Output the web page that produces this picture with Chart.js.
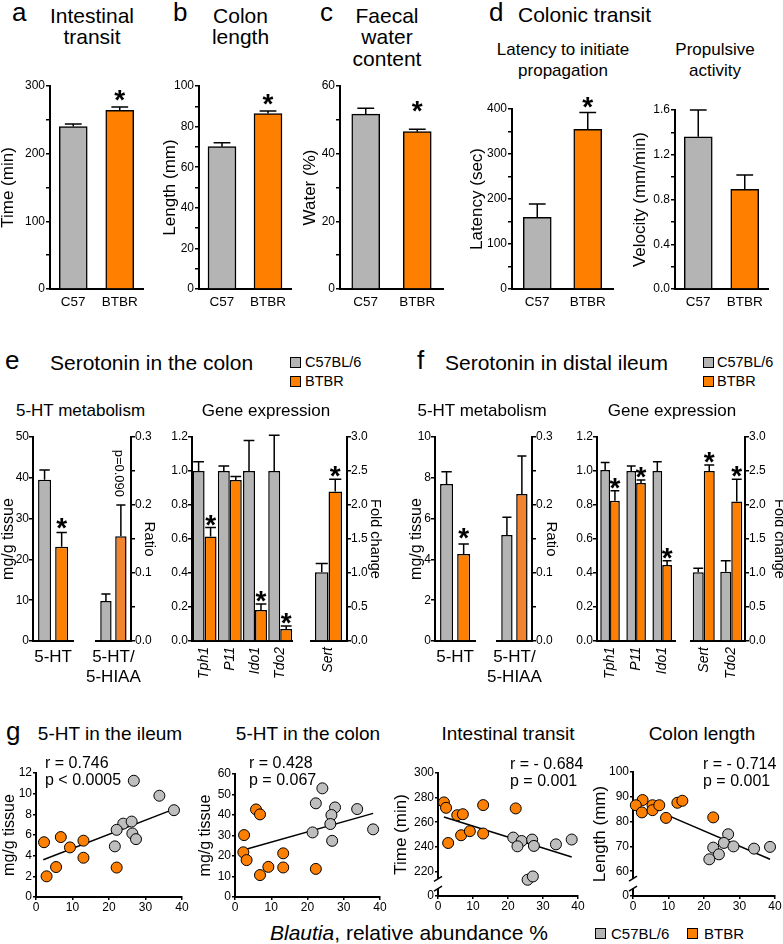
<!DOCTYPE html>
<html lang="en">
<head>
<meta charset="UTF-8">
<title>Gut transit and serotonin, BTBR vs C57BL/6</title>
<script src="https://cdn.jsdelivr.net/npm/chart.js"></script>
<style>
  html, body { margin: 0; padding: 0; background: #fff; }
  #fig { position: relative; width: 783px; height: 944px; overflow: hidden;
         font-family: "Liberation Sans", Arial, Helvetica, sans-serif; color: #000; }
  #fig canvas { position: absolute; }
  .t { position: absolute; white-space: nowrap; line-height: 1; }
  .sq { position: absolute; box-sizing: border-box; width: 11px; height: 11px; border: 1.5px solid #000; }
</style>
</head>
<body>
<div id="fig"></div>
<script>
// ---------- data ----------
const strains = ['C57', 'BTBR'];
const transitMean = [240, 264];
const transitErr = [244, 269];
const transitStar = [false, true];
const colonLenMean = [70.1, 86.4];
const colonLenErr = [72.1, 87.7];
const colonLenStar = [false, true];
const waterMean = [51.7, 46.5];
const waterErr = [53.4, 47.2];
const waterStar = [false, true];
const latencyMean = [159, 355];
const latencyErr = [189, 392];
const latencyStar = [false, true];
const velocityMean = [1.36, 0.89];
const velocityErr = [1.6, 1.02];

const metabCats = ['5-HT'];
const ratioCats = [['5-HT/', '5-HIAA']];

// e: colon
const colonHtC57 = [39.5], colonHtC57Err = [41.9];
const colonHtBTBR = [23.1], colonHtBTBRErr = [26.6];
const colonRatioC57 = [0.059], colonRatioC57Err = [0.069];
const colonRatioBTBR = [0.154], colonRatioBTBRErr = [0.2];
const colonGenes = ['Tph1', 'P11', 'Ido1', 'Tdo2'];
const colonGeneC57 = [1.0, 1.0, 1.0, 1.0];
const colonGeneC57Err = [1.055, 1.03, 1.18, 1.21];
const colonGeneBTBR = [0.614, 0.947, 0.182, 0.07];
const colonGeneBTBRErr = [0.667, 0.967, 0.218, 0.088];
const colonGeneStar = [true, false, true, true];
const colonFoldGenes = ['Sert'];
const colonFoldC57 = [1.01], colonFoldC57Err = [1.14];
const colonFoldBTBR = [2.2], colonFoldBTBRErr = [2.38];

// f: distal ileum
const ileumHtC57 = [7.7], ileumHtC57Err = [8.3];
const ileumHtBTBR = [4.26], ileumHtBTBRErr = [4.75];
const ileumRatioC57 = [0.156], ileumRatioC57Err = [0.182];
const ileumRatioBTBR = [0.216], ileumRatioBTBRErr = [0.272];
const ileumGenes = ['Tph1', 'P11', 'Ido1'];
const ileumGeneC57 = [1.006, 1.0, 1.0];
const ileumGeneC57Err = [1.05, 1.03, 1.055];
const ileumGeneBTBR = [0.825, 0.93, 0.447];
const ileumGeneBTBRErr = [0.884, 0.947, 0.472];
const ileumFoldGenes = ['Sert', 'Tdo2'];
const ileumFoldC57 = [1.01, 1.02], ileumFoldC57Err = [1.07, 1.18];
const ileumFoldBTBR = [2.5, 2.05], ileumFoldBTBRErr = [2.59, 2.38];

// g: correlations with Blautia abundance (%)
const ileumBTBRx = [2.2, 6.8, 9.3, 13, 13, 5.5, 2.9, 22.1];
const ileumBTBRy = [5.3, 5.8, 4.8, 5.45, 3.8, 2.9, 2.0, 2.85];
const ileumC57x = [26.8, 33.8, 37.8, 23.9, 26.2, 22.1, 26.4, 27.4, 21.6];
const ileumC57y = [11.25, 9.8, 8.4, 7.1, 7.3, 6.5, 6.15, 5.6, 4.9];
const ileumFitX = [2, 37.8], ileumFitY = [3.6, 8.5];

const colonBTBRx = [5.8, 6.9, 2.5, 2.3, 3.2, 6.9, 9.2, 13.3, 13.3, 22.3];
const colonBTBRy = [42.7, 40.3, 30.2, 21.8, 18, 10.7, 14.7, 21.3, 14.4, 13.7];
const colonC57x = [24.1, 22.3, 27.6, 26.6, 33.7, 26.3, 21.4, 38.1, 26.8];
const colonC57y = [53, 45.7, 43.7, 40, 42.9, 35.6, 31.5, 33, 27.4];
const colonFitX = [2.8, 38.1], colonFitY = [23.2, 40.8];

const transitBTBRx = [1.7, 2.3, 5.5, 7.1, 12.9, 22.2, 2.9, 6.6, 9.1, 12.9];
const transitBTBRy = [276.1, 271.7, 265.7, 266.5, 273.9, 271.2, 243.1, 249.4, 252.7, 250.8];
const transitC57x = [21.5, 23.9, 26.9, 22.7, 27.4, 33.7, 38.2, 25.6, 27.1];
const transitC57y = [247.5, 244.7, 245.9, 240.4, 240.7, 242, 245.9, 213.2, 215.9];
const transitFitX = [1.7, 38.2], transitFitY = [264.3, 231.7];

const lengthBTBRx = [2.7, 0.8, 2.5, 5.5, 5.5, 7.4, 9.3, 12.5, 13.9, 22.6];
const lengthBTBRy = [88.7, 86.6, 83.7, 86.6, 84.6, 86.6, 81.5, 87.6, 88.4, 81.7];
const lengthC57x = [26.8, 22.6, 25.6, 28.3, 24.2, 21.5, 34.1, 38.6];
const lengthC57y = [74.9, 69.5, 71.4, 70, 66.8, 64.8, 69.1, 69.8];
const lengthFitX = [9.3, 38.6], lengthFitY = [82.8, 64.8];

// ---------- styling ----------
const GRAY = '#b4b4b4', ORANGE = '#ff8000', RATIO_ORANGE = '#f2842f', PT_GRAY = '#bebebe';
const FONT = '"Liberation Sans", Arial, Helvetica, sans-serif';

Chart.defaults.font.family = FONT;
Chart.defaults.color = '#000';
Chart.defaults.animation = false;
Chart.defaults.plugins.legend.display = false;
Chart.defaults.plugins.tooltip.enabled = false;

// error bars, asterisks and the p-value note on top of bars
const errBars = {
  id: 'errBars',
  afterDatasetsDraw(chart, args, o) {
    const ctx = chart.ctx;
    chart.data.datasets.forEach((ds, i) => {
      if (!ds.err) return;
      const meta = chart.getDatasetMeta(i);
      const ys = chart.scales[meta.yAxisID];
      meta.data.forEach((bar, j) => {
        const top = ys.getPixelForValue(ds.err[j]);
        const half = bar.width * (o.cap || 0.3);
        ctx.save();
        ctx.strokeStyle = '#000';
        ctx.lineWidth = 1.5;
        ctx.beginPath();
        ctx.moveTo(bar.x, bar.y);
        ctx.lineTo(bar.x, top);
        ctx.moveTo(bar.x - half, top);
        ctx.lineTo(bar.x + half, top);
        ctx.stroke();
        ctx.fillStyle = '#000';
        if (ds.star && ds.star[j]) {
          ctx.font = 'bold 28px ' + FONT;
          ctx.textAlign = 'center';
          ctx.textBaseline = 'alphabetic';
          ctx.fillText('*', bar.x, top + (o.starOff || 0));
        }
        if (ds.note && ds.note[j]) {
          ctx.translate(bar.x - 2, top - 8);
          ctx.rotate(Math.PI / 2);
          ctx.font = '13px ' + FONT;
          ctx.textAlign = 'right';
          ctx.textBaseline = 'middle';
          ctx.fillText(ds.note[j], 0, 0);
        }
        ctx.restore();
      });
    });
  }
};

// "//" break on a y axis
const axisBreak = {
  id: 'axisBreak',
  afterDraw(chart, args, o) {
    if (!o.at) return;
    const ctx = chart.ctx, ys = chart.scales.y;
    const x = chart.chartArea.left;
    const y1 = ys.getPixelForValue(o.at[0]), y2 = ys.getPixelForValue(o.at[1]);
    ctx.save();
    ctx.fillStyle = '#fff';
    ctx.fillRect(x - 3, y2, 6, y1 - y2);
    ctx.strokeStyle = '#000';
    ctx.lineWidth = 1.5;
    ctx.beginPath();
    [y1, y2].forEach(y => { ctx.moveTo(x - 4, y + 2.5); ctx.lineTo(x + 4, y - 2.5); });
    ctx.stroke();
    ctx.restore();
  }
};
Chart.register(errBars, axisBreak);

const fig = document.getElementById('fig');

// put a chart so that its plot area lands on box l,t,r,b
function place(box, cfg) {
  const pl = box.pl || 0, pr = box.pr || 0, pt = box.pt || 14;
  const yw = box.yw || 0, yrw = box.yrw || 0;
  const W = box.r - box.l + yw + yrw + pl + pr;
  const H = box.b - box.t + pt + box.xh;
  const cv = document.createElement('canvas');
  cv.width = W; cv.height = H;
  cv.style.left = (box.l - yw - pl) + 'px';
  cv.style.top = (box.t - pt) + 'px';
  cv.style.width = W + 'px';
  cv.style.height = H + 'px';
  fig.appendChild(cv);
  const o = cfg.options;
  o.responsive = false;
  o.layout = { padding: { left: pl, right: pr, top: pt, bottom: 0 } };
  Object.entries(o.scales).forEach(([k, s]) => {
    if (k[0] === 'x') s.afterFit = sc => { sc.height = box.xh; };
    else if (s.position === 'right') s.afterFit = sc => { sc.width = yrw; };
    else s.afterFit = sc => { sc.width = yw; };
  });
  return new Chart(cv, cfg);
}

const major = (step, dec) => v => {
  const r = v / step;
  return Math.abs(r - Math.round(r)) < 1e-6 ? v.toFixed(dec) : '';
};

function yLin(o) {
  const s = {
    type: 'linear', position: o.pos || 'left', min: o.min, max: o.max,
    border: { display: true, color: '#000', width: 2 },
    grid: { drawOnChartArea: false, drawTicks: true, tickLength: o.tl || 4, color: '#000', lineWidth: 1.5 },
    ticks: { stepSize: o.step, padding: o.pad || 0, autoSkip: false, font: { size: 12 } },
    title: { display: !!o.title, text: o.title || '', padding: 0, font: { size: o.ts || 17 } }
  };
  if (o.fmt) s.ticks.callback = o.fmt;
  return s;
}

function xCat(o = {}) {
  return {
    type: 'category', offset: true,
    border: { display: true, color: '#000', width: 2 },
    grid: { display: false, drawTicks: false },
    ticks: { padding: o.pad || 5, autoSkip: false, maxRotation: o.rot || 0, minRotation: o.rot || 0,
             font: { size: o.fs || 13.5, style: o.italic ? 'italic' : 'normal', lineHeight: 1.2 } }
  };
}

function xLin() {
  return {
    type: 'linear', min: 0, max: 40,
    border: { display: true, color: '#000', width: 2 },
    grid: { drawOnChartArea: false, drawTicks: true, tickLength: 3, color: '#000', lineWidth: 1.5 },
    ticks: { stepSize: 10, padding: 0, font: { size: 12 } }
  };
}

function barDs(label, data, err, star, color, note) {
  return { label, data, err, star, note, backgroundColor: color, borderColor: '#000', borderWidth: 1.5 };
}

// ---------- a-d: single bar pairs ----------
function strainBars(box, mean, err, star, yopt, starOff) {
  const ds = barDs('mean', mean, err, star, [GRAY, ORANGE]);
  ds.barThickness = 28;
  place(Object.assign({ xh: 30, pr: 4 }, box), {
    type: 'bar',
    data: { labels: strains, datasets: [ds] },
    options: {
      scales: { x: xCat({ fs: 13.5, pad: 5 }), y: yLin(Object.assign({ pad: 1 }, yopt)) },
      plugins: { errBars: { cap: 0.3, starOff } }
    }
  });
}

strainBars({ l: 50, t: 86, r: 143, b: 289, yw: 52 }, transitMean, transitErr, transitStar,
  { min: 0, max: 300, step: 50, fmt: major(100, 0), title: 'Time (min)' }, 2);
strainBars({ l: 199, t: 86, r: 291, b: 289, yw: 39 }, colonLenMean, colonLenErr, colonLenStar,
  { min: 0, max: 100, step: 10, fmt: major(20, 0), title: 'Length (mm)' }, 2);
strainBars({ l: 340, t: 86, r: 443, b: 289, yw: 40 }, waterMean, waterErr, waterStar,
  { min: 0, max: 60, step: 10, fmt: major(20, 0), title: 'Water (%)' }, -9);
strainBars({ l: 512, t: 109, r: 613, b: 289, yw: 45 }, latencyMean, latencyErr, latencyStar,
  { min: 0, max: 400, step: 50, fmt: major(100, 0), title: 'Latency (sec)' }, 3);
strainBars({ l: 675, t: 110, r: 768, b: 289, yw: 45 }, velocityMean, velocityErr, null,
  { min: 0, max: 1.6, step: 0.2, fmt: major(0.4, 1), title: 'Velocity (mm/min)' }, 3);

// ---------- e, f: grouped bars ----------
function groupBars(box, labels, c57, c57Err, btbr, btbrErr, btbrStar, yopt, xopt, bars, plug, btbrColor, note) {
  place(Object.assign({ xh: 55 }, box), {
    type: 'bar',
    data: { labels, datasets: [
      barDs('C57BL/6', c57, c57Err, null, GRAY),
      barDs('BTBR', btbr, btbrErr, btbrStar, btbrColor || ORANGE, note)
    ] },
    options: {
      datasets: { bar: bars },
      scales: { x: xCat(xopt), y: yLin(yopt) },
      plugins: { errBars: plug }
    }
  });
}

const metabBars = { categoryPercentage: 0.85, barPercentage: 0.76 };
const metabX = { fs: 17, pad: 6 };
const geneX = { fs: 14, italic: true, rot: 90, pad: 6 };
const geneY = { min: 0, max: 1.2, step: 0.2, fmt: major(0.2, 1) };
const foldY = { pos: 'right', min: 0, max: 3, step: 0.5, fmt: major(0.5, 1), title: 'Fold change', ts: 14.5 };
const ratioY = { pos: 'right', min: 0, max: 0.3, step: 0.05, fmt: major(0.1, 1), title: 'Ratio', ts: 15 };

// e
groupBars({ l: 33, t: 437, r: 78, b: 641, yw: 34 }, metabCats, colonHtC57, colonHtC57Err,
  colonHtBTBR, colonHtBTBRErr, [true],
  { min: 0, max: 50, step: 10, fmt: major(10, 0), title: 'mg/g tissue', ts: 16 },
  metabX, metabBars, { cap: 0.4, starOff: 5 });
groupBars({ l: 86, t: 437, r: 131, b: 641, yrw: 27, pl: 12 }, ratioCats, colonRatioC57, colonRatioC57Err,
  colonRatioBTBR, colonRatioBTBRErr, null, ratioY, metabX, metabBars, { cap: 0.4 },
  RATIO_ORANGE, ['p=0.090']);
groupBars({ l: 192, t: 437, r: 303, b: 641, yw: 30 }, colonGenes, colonGeneC57, colonGeneC57Err,
  colonGeneBTBR, colonGeneBTBRErr, colonGeneStar, geneY, geneX,
  { categoryPercentage: 0.95, barPercentage: 1 }, { cap: 0.45, starOff: 6 });
groupBars({ l: 310, t: 437, r: 347, b: 641, yrw: 37 }, colonFoldGenes, colonFoldC57, colonFoldC57Err,
  colonFoldBTBR, colonFoldBTBRErr, [true], foldY, geneX,
  { categoryPercentage: 0.73, barPercentage: 1 }, { cap: 0.45, starOff: 6 });

// f
groupBars({ l: 435, t: 437, r: 480, b: 641, yw: 28 }, metabCats, ileumHtC57, ileumHtC57Err,
  ileumHtBTBR, ileumHtBTBRErr, [true],
  { min: 0, max: 10, step: 2, fmt: major(2, 0), title: 'mg/g tissue', ts: 16 },
  metabX, metabBars, { cap: 0.4, starOff: 3 });
groupBars({ l: 487, t: 437, r: 532, b: 641, yrw: 28, pl: 12 }, ratioCats, ileumRatioC57, ileumRatioC57Err,
  ileumRatioBTBR, ileumRatioBTBRErr, null, ratioY, metabX, metabBars, { cap: 0.4 }, RATIO_ORANGE);
groupBars({ l: 597, t: 437, r: 685, b: 641, yw: 30 }, ileumGenes, ileumGeneC57, ileumGeneC57Err,
  ileumGeneBTBR, ileumGeneBTBRErr, [true, true, true], geneY, geneX,
  { categoryPercentage: 0.75, barPercentage: 1 }, { cap: 0.45, starOff: 6 });
groupBars({ l: 690, t: 437, r: 745, b: 641, yrw: 43 }, ileumFoldGenes, ileumFoldC57, ileumFoldC57Err,
  ileumFoldBTBR, ileumFoldBTBRErr, [true, true], foldY, geneX,
  { categoryPercentage: 0.8, barPercentage: 1 }, { cap: 0.45, starOff: 6 });

// ---------- g: scatter + regression ----------
function pts(label, xs, ys, color) {
  return { label, data: xs.map((x, i) => ({ x, y: ys[i] })), backgroundColor: color, borderColor: '#000',
           borderWidth: 1, pointRadius: 5.5, pointHoverRadius: 5.5, clip: false };
}
function fitLine(xs, ys) {
  return { type: 'line', label: 'fit', data: xs.map((x, i) => ({ x, y: ys[i] })), borderColor: '#000',
           borderWidth: 1.5, pointRadius: 0, showLine: true, fill: false };
}
function scatter(box, bx, by, cx, cy, fx, fy, yopt, brk) {
  place(Object.assign({ xh: 20, pr: 10, pt: 10 }, box), {
    type: 'scatter',
    data: { datasets: [pts('BTBR', bx, by, ORANGE), pts('C57BL/6', cx, cy, PT_GRAY), fitLine(fx, fy)] },
    options: {
      scales: { x: xLin(), y: yLin(Object.assign({ tl: 3, pad: 1 }, yopt)) },
      plugins: { axisBreak: { at: brk } }
    }
  });
}

scatter({ l: 36, t: 773, r: 182, b: 897, yw: 36 }, ileumBTBRx, ileumBTBRy, ileumC57x, ileumC57y,
  ileumFitX, ileumFitY, { min: 0, max: 12, step: 2, title: 'mg/g tissue', ts: 16 });
scatter({ l: 235, t: 774, r: 380, b: 897, yw: 39 }, colonBTBRx, colonBTBRy, colonC57x, colonC57y,
  colonFitX, colonFitY, { min: 0, max: 60, step: 10, title: 'mg/g tissue', ts: 16 });
scatter({ l: 438, t: 773, r: 578, b: 896, yw: 47 }, transitBTBRx, transitBTBRy, transitC57x, transitC57y,
  transitFitX, transitFitY,
  { min: 200, max: 300, step: 20, fmt: v => (v === 200 ? '0' : String(v)), title: 'Time (min)' }, [206, 214]);
scatter({ l: 633, t: 772, r: 775, b: 896, yw: 43, pr: 8 }, lengthBTBRx, lengthBTBRy, lengthC57x, lengthC57y,
  lengthFitX, lengthFitY,
  { min: 50, max: 100, step: 10, fmt: v => (v === 50 ? '0' : String(v)), title: 'Length (mm)' }, [53, 57]);

// ---------- text ----------
function label(html, x, base, size, align) {
  const d = document.createElement('div');
  d.className = 't';
  d.innerHTML = html;
  d.style.fontSize = size + 'px';
  d.style.left = x + 'px';
  d.style.top = (base - 0.846 * size) + 'px';
  if (align === 'c') d.style.transform = 'translateX(-50%)';
  fig.appendChild(d);
}
function swatch(x, y, color) {
  const d = document.createElement('div');
  d.className = 'sq';
  d.style.left = x + 'px';
  d.style.top = y + 'px';
  d.style.background = color;
  fig.appendChild(d);
}

label('a', 12, 20.5, 26);
label('Intestinal', 92, 22.7, 21, 'c');
label('transit', 92, 44, 21, 'c');
label('b', 173, 20.5, 26);
label('Colon', 240.5, 22.7, 21, 'c');
label('length', 240.5, 44, 21, 'c');
label('c', 320, 20.5, 26);
label('Faecal', 387, 22.7, 21, 'c');
label('water', 387, 44, 21, 'c');
label('content', 387, 65.3, 21, 'c');
label('d', 489, 20.7, 26);
label('Colonic transit', 518, 21.7, 21);
label('Latency to initiate', 563, 55, 17, 'c');
label('propagation', 563, 76.7, 17, 'c');
label('Propulsive', 715, 55, 17, 'c');
label('activity', 715, 76.7, 17, 'c');

label('e', 5, 369.3, 26);
label('Serotonin in the colon', 50, 369.3, 21);
swatch(290, 357, GRAY);
swatch(290, 376, ORANGE);
label('C57BL/6', 305, 367.3, 14.5);
label('BTBR', 305, 386, 14.5);
label('5-HT metabolism', 80.5, 416, 17, 'c');
label('Gene expression', 266, 416, 17, 'c');

label('f', 417, 369.3, 26);
label('Serotonin in distal ileum', 445, 369.3, 21);
swatch(703, 357, GRAY);
swatch(703, 376, ORANGE);
label('C57BL/6', 717, 367.3, 14.5);
label('BTBR', 717, 386, 14.5);
label('5-HT metabolism', 482, 416, 17, 'c');
label('Gene expression', 672, 416, 17, 'c');

label('g', 6, 740, 26);
label('5-HT in the ileum', 110, 740, 19, 'c');
label('5-HT in the colon', 308, 740, 19, 'c');
label('Intestinal transit', 508, 740, 19, 'c');
label('Colon length', 702, 740, 19, 'c');
label('r = 0.746', 45, 768.3, 16);
label('p &lt; 0.0005', 45, 785.7, 16);
label('r = 0.428', 249, 768.3, 16);
label('p = 0.067', 249, 785.7, 16);
label('r = - 0.684', 510, 769.3, 16);
label('p = 0.001', 510, 786.7, 16);
label('r = - 0.714', 703, 769.3, 16);
label('p = 0.001', 703, 786.7, 16);
label('<i>Blautia</i>, relative abundance %', 270, 940, 21);
swatch(595, 928, GRAY);
label('C57BL/6', 611, 939, 15);
swatch(687, 928, ORANGE);
label('BTBR', 704, 939, 15);
</script>
</body>
</html>
